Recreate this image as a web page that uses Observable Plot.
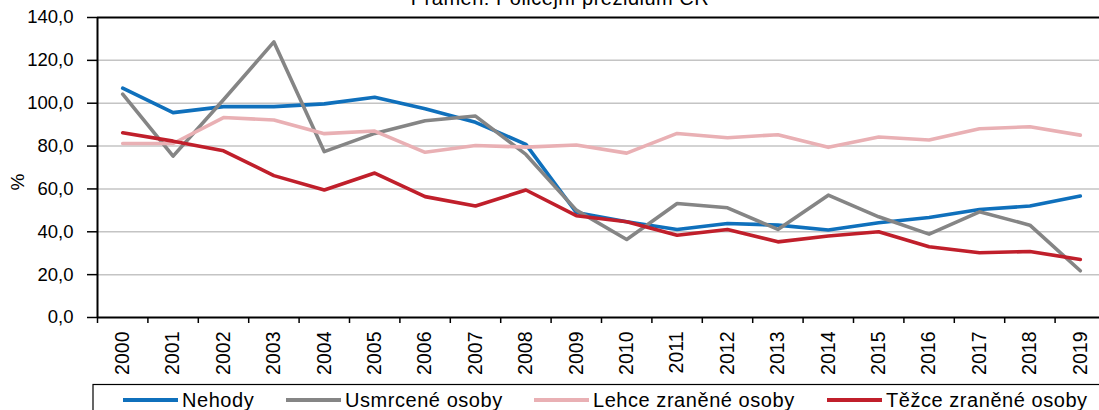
<!DOCTYPE html>
<html><head><meta charset="utf-8">
<script src="https://cdn.jsdelivr.net/npm/d3@7"></script>
<script src="https://cdn.jsdelivr.net/npm/@observablehq/plot@0.6"></script>
<style>
html,body{margin:0;padding:0;overflow:hidden;background:#fff}
#wrap{position:relative;width:1099px;height:410px;overflow:hidden}
#wrap svg{position:absolute;left:0;top:0}
</style></head><body><div id="wrap"></div>
<script>
const years = [2000,2001,2002,2003,2004,2005,2006,2007,2008,2009,2010,2011,2012,2013,2014,2015,2016,2017,2018,2019];
const nehody   = [107.0, 95.6, 98.4, 98.4, 99.7,102.8, 97.4, 91.1, 80.8, 49.0, 44.7, 41.1, 43.9, 43.1, 40.8, 44.2, 46.7, 50.4, 52.0, 56.7];
const usmrcene = [104.2, 75.3,101.6,128.6, 77.4, 85.9, 91.8, 94.0, 76.1, 50.1, 36.4, 53.2, 51.2, 41.1, 57.1, 47.0, 38.9, 49.3, 43.1, 21.8];
const lehce    = [ 81.2, 81.2, 93.3, 92.2, 85.8, 87.0, 77.1, 80.3, 79.5, 80.5, 76.7, 85.9, 83.9, 85.3, 79.4, 84.2, 82.8, 88.1, 89.0, 85.1];
const tezce    = [ 86.2, 82.3, 77.8, 66.2, 59.5, 67.4, 56.4, 52.0, 59.5, 47.5, 44.7, 38.4, 41.1, 35.3, 38.0, 40.0, 33.0, 30.2, 30.8, 27.1];
const seriesNames = ["Nehody", "Usmrcené osoby", "Lehce zraněné osoby", "Těžce zraněné osoby"];
const seriesColors = ["#0f70bc", "#858585", "#e9b0b4", "#c01f2b"];
const seriesValues = [nehody, usmrcene, lehce, tezce];
const yTicks = [0, 20, 40, 60, 80, 100, 120, 140];
const gridValues = [20, 40, 60, 80, 100, 120];
const titleText = "Pramen: Policejní prezidium ČR";
const yLabel = "%";

const bounds = years.map(y => y - 0.5).concat([years[years.length - 1] + 0.5]);
const fmt = d => d.toFixed(1).replace(".", ",");
const font = "'Liberation Sans', Arial, Helvetica, sans-serif";

const lines = seriesValues.map((vals, i) =>
  Plot.line(years.map((yr, j) => ({year: yr, value: vals[j]})), {
    x: "year", y: "value", stroke: seriesColors[i], strokeWidth: 3.6,
    strokeLinejoin: "round", strokeLinecap: "round"
  })
);

const chart = Plot.plot({
  width: 1099, height: 410,
  marginLeft: 97, marginRight: -6, marginTop: 17, marginBottom: 93,
  style: {fontFamily: font, color: "#000", background: "transparent", overflow: "hidden"},
  x: {type: "linear", domain: [bounds[0], bounds[bounds.length - 1]]},
  y: {domain: [0, 140]},
  marks: [
    Plot.ruleY(gridValues, {stroke: "#c4c4c4", strokeWidth: 1.5}),
    ...lines,
    Plot.ruleX([bounds[0]], {stroke: "#000", strokeWidth: 2}),
    Plot.ruleY([0], {stroke: "#000", strokeWidth: 2}),
    Plot.ruleY([140], {stroke: "#000", strokeWidth: 2}),
    Plot.axisY(yTicks, {tickSize: 10, tickPadding: 14, fontSize: 18.5, tickFormat: fmt, label: null, strokeWidth: 1.5}),
    Plot.axisX(years, {tickSize: 0, tickRotate: -90, tickPadding: 14, fontSize: 19.5, tickFormat: d => String(d), label: null}),
    Plot.axisX(bounds, {tickSize: 6, tickFormat: () => "", label: null, strokeWidth: 1.5})
  ]
});
const wrap = document.getElementById("wrap");
wrap.appendChild(chart);

// Overlay: title, y label, legend
const ov = d3.select(wrap).append("svg")
  .attr("width", 1099).attr("height", 410)
  .style("font-family", font).style("pointer-events", "none");

ov.append("text").attr("x", 560).attr("y", 4.5)
  .attr("text-anchor", "middle").attr("font-size", 20).attr("letter-spacing", 0.5)
  .text(titleText);

ov.append("text").attr("transform", "translate(24,182) rotate(-90)")
  .attr("text-anchor", "middle").attr("font-size", 19).text(yLabel);

ov.append("rect").attr("x", 93).attr("y", 384.5).attr("width", 1030).attr("height", 50)
  .attr("fill", "none").attr("stroke", "#000").attr("stroke-width", 1.2);

const legendLineX = [123, 286, 534, 827];
const items = ov.selectAll("g.leg").data(seriesNames).join("g").attr("class", "leg");
items.append("line")
  .attr("x1", (d, i) => legendLineX[i]).attr("x2", (d, i) => legendLineX[i] + 55)
  .attr("y1", 400).attr("y2", 400)
  .attr("stroke", (d, i) => seriesColors[i]).attr("stroke-width", 4);
items.append("text")
  .attr("x", (d, i) => legendLineX[i] + 59).attr("y", 406.5)
  .attr("font-size", 20).attr("letter-spacing", 0.55)
  .text(d => d);
</script></body></html>
